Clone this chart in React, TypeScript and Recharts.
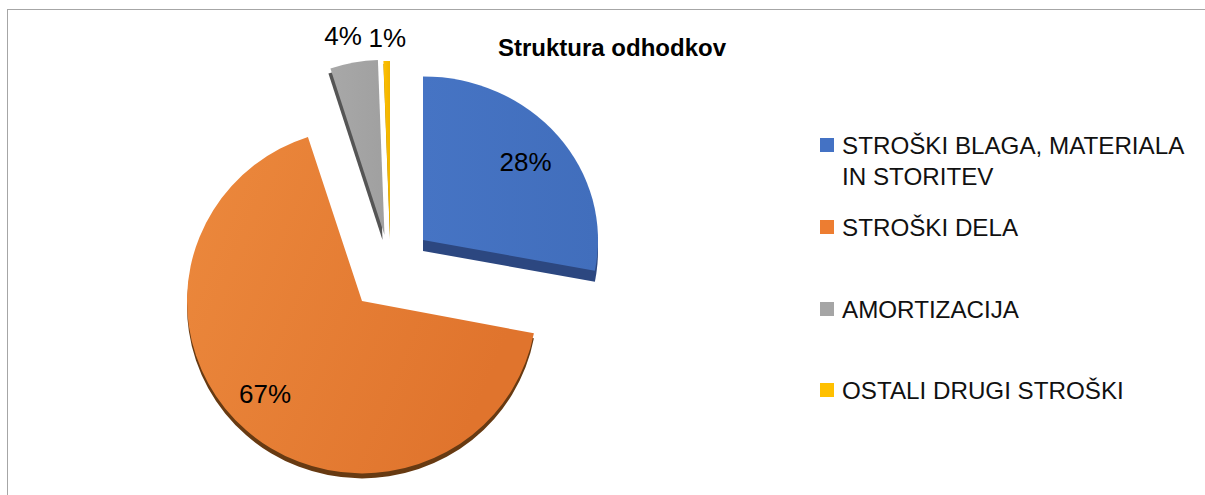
import React from "react";
import { PieChart, Pie, Sector, Legend } from "recharts";

const names = ["STROŠKI BLAGA, MATERIALA IN STORITEV", "STROŠKI DELA", "AMORTIZACIJA", "OSTALI DRUGI STROŠKI"];
const shares = [28, 67, 4.4, 0.6];
const labels = ["28%", "67%", "4%", "1%"];
const colors = ["#4472C4", "#ED7D31", "#A5A5A5", "#FFC000"];
const depthColors = ["#2C4780", "#673A12", "#555555", "#A87E00"];
const gradientIds = ["gBlue", "gOrange", "gGrey", "gYellow"];

// Exploded-slice layout, relative to the pie centre
const CX = 385;
const CY = 265;
const R = 175;
const offsetX = [38, -23, -0.5, 5];
const offsetY = [-25, 36, -30, -29];
const scaleY = [0.935, 0.985, 1, 1];
const depthX = [0, 0, -2, 0];
const depthY = [11, 5, 5, 3];
const labelRadius = [128, 136, 202, 198];
const labelDx = [4, -7, -6, 1];
const labelDy = [-2, -7, 0, 0];
const legendTops = [132, 214, 296, 377];

const chartData = names.map((name, i) => ({ name, value: shares[i], fill: colors[i] }));
const indexOf = (p: any) => names.indexOf(p.name ?? p.payload?.name);

const slice = (p: any, i: number, fill: string, dx: number, dy: number) => {
  const ax = p.cx + offsetX[i];
  const ay = p.cy + offsetY[i];
  const t = `translate(${ax + dx} ${ay + dy}) scale(1 ${scaleY[i]}) translate(${-p.cx} ${-p.cy})`;
  return (
    <g transform={t}>
      <Sector cx={p.cx} cy={p.cy} innerRadius={0} outerRadius={p.outerRadius} startAngle={p.startAngle} endAngle={p.endAngle} fill={fill} stroke="none" />
    </g>
  );
};

const TopShape = (p: any) => {
  const i = indexOf(p);
  return slice(p, i, `url(#${gradientIds[i]})`, 0, 0);
};
const DepthShape = (p: any) => {
  const i = indexOf(p);
  return slice(p, i, depthColors[i], depthX[i], depthY[i]);
};

const renderLabel = (p: any) => {
  const i = indexOf(p);
  const a = (p.midAngle * Math.PI) / 180;
  const x = p.cx + offsetX[i] + labelRadius[i] * Math.cos(a) + labelDx[i];
  const y = p.cy + offsetY[i] - labelRadius[i] * Math.sin(a) * scaleY[i] + labelDy[i];
  return (
    <text x={x} y={y} textAnchor="middle" dominantBaseline="central" fontFamily="Liberation Sans" fontSize={26} fill="#000">
      {labels[i]}
    </text>
  );
};

const LegendBox = () => (
  <div style={{ position: "relative", width: 385, height: 300, fontFamily: "Liberation Sans", fontSize: 24.2, lineHeight: "31px", color: "#111" }}>
    {names.map((n, i) => (
      <div key={n} style={{ position: "absolute", left: 22, top: legendTops[i] - 132, width: 350 }}>
        <span style={{ position: "absolute", left: -22, top: 8, width: 14, height: 14, background: colors[i] }} />
        {n}
      </div>
    ))}
  </div>
);

export default function App() {
  return (
    <div style={{ position: "absolute", left: 0, top: 0, width: 1205, height: 495, background: "#fff", overflow: "hidden" }}>
      <div style={{ position: "absolute", left: 7, top: 9, right: -2, bottom: -2, border: "1px solid #a6a6a6" }} />
      <PieChart width={1205} height={495} margin={{ top: 0, right: 0, bottom: 0, left: 0 }} style={{ position: "absolute", left: 0, top: 0 }}>
        <defs>
          <linearGradient id="gBlue" x1="0" y1="0" x2="1" y2="0">
            <stop offset="0" stopColor="#4674C4" />
            <stop offset="1" stopColor="#416EBC" />
          </linearGradient>
          <linearGradient id="gOrange" x1="0" y1="0" x2="1" y2="0.4">
            <stop offset="0" stopColor="#EC893D" />
            <stop offset="1" stopColor="#E0742D" />
          </linearGradient>
          <linearGradient id="gGrey" x1="0" y1="0" x2="1" y2="0">
            <stop offset="0" stopColor="#A8A8A8" />
            <stop offset="1" stopColor="#A0A0A0" />
          </linearGradient>
          <linearGradient id="gYellow" x1="0" y1="0" x2="1" y2="0">
            <stop offset="0" stopColor="#FFC000" />
            <stop offset="1" stopColor="#F0B400" />
          </linearGradient>
        </defs>
        <text x={612} y={47} textAnchor="middle" dominantBaseline="central" fontFamily="Liberation Sans" fontWeight="bold" fontSize={24} fill="#000">
          Struktura odhodkov
        </text>
        <Pie data={chartData} dataKey="value" nameKey="name" cx={CX} cy={CY} innerRadius={0} outerRadius={R} startAngle={90} endAngle={-270} isAnimationActive={false} legendType="none" shape={DepthShape} stroke="none" />
        <Pie data={chartData} dataKey="value" nameKey="name" cx={CX} cy={CY} innerRadius={0} outerRadius={R} startAngle={90} endAngle={-270} isAnimationActive={false} shape={TopShape} stroke="none" label={renderLabel} labelLine={false} />
        <Legend content={<LegendBox />} wrapperStyle={{ position: "absolute", left: 820, top: 130, width: 385, bottom: "auto" }} />
      </PieChart>
    </div>
  );
}
